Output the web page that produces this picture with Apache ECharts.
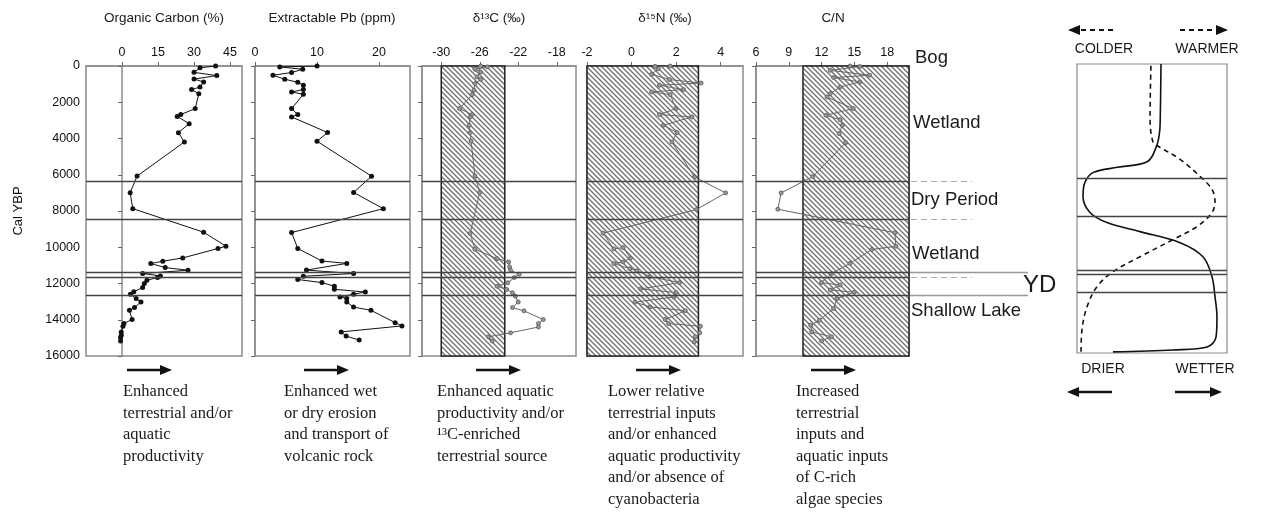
<!DOCTYPE html>
<html>
<head>
<meta charset="utf-8">
<script src="https://cdn.jsdelivr.net/npm/echarts@6/dist/echarts.min.js"></script>
<style>
html, body { margin: 0; padding: 0; background: #fff; }
#chart { width: 1265px; height: 520px; }
</style>
</head>
<body>
<div id="chart"></div>
<script>
// depth (cal yr BP) ticks and zone boundaries
const yTicks = [0, 2000, 4000, 6000, 8000, 10000, 12000, 14000, 16000]
const zoneBounds = [6350, 8450, 11400, 11650, 12650]

// tick labels on top axes
const ocTicks = [0, 15, 30, 45]
const pbTicks = [0, 10, 20]
const c13Ticks = [-30, -26, -22, -18]
const n15Ticks = [-2, 0, 2, 4]
const cnTicks = [6, 9, 12, 15, 18]

// [value, depth]
const orgCarbon = [[39, 0], [32.5, 100], [30, 350], [39.5, 530], [30, 720], [34, 880], [32.5, 1160], [29, 1300], [32, 1530], [30.5, 2350], [24.5, 2680], [23, 2780], [28, 3180], [23.5, 3680], [26, 4190], [6.3, 6070], [3.4, 6990], [4.5, 7870], [34, 9170], [43.3, 9940], [40, 10070], [25.3, 10590], [17, 10770], [12, 10900], [18, 11120], [27.5, 11270], [8.6, 11450], [16, 11580], [14.8, 11670], [10.4, 11820], [9.3, 12000], [8.6, 12220], [4.9, 12460], [3.5, 12590], [5.9, 12830], [7.9, 13020], [5.2, 13330], [3.1, 13480], [4.2, 13980], [0.8, 14210], [0.4, 14360], [-0.3, 14670], [-0.3, 14850], [-0.6, 14980], [-0.6, 15170]]
const leadPb = [[10, 0], [4, 50], [7.7, 180], [5.9, 360], [2.9, 510], [4.8, 730], [6.9, 900], [7.8, 1060], [7.8, 1300], [5.9, 1430], [7.8, 1560], [5.9, 2350], [6.9, 2680], [5.9, 2810], [11.7, 3670], [10, 4150], [18.8, 6080], [15.9, 6980], [20.7, 7870], [5.9, 9190], [6.9, 10070], [10.8, 10760], [14.8, 10890], [8.3, 11260], [15.9, 11450], [7.8, 11600], [6.9, 11780], [10.8, 11950], [12.8, 12150], [12.8, 12320], [17.8, 12470], [15.9, 12590], [13.7, 12740], [14.8, 12830], [14.8, 13020], [15.9, 13300], [18.7, 13480], [22.6, 14160], [23.7, 14340], [13.9, 14670], [14.7, 14900], [16.8, 15120]]
const d13C = [[-25.9, 0], [-25.2, 50], [-26.5, 180], [-25.9, 330], [-26.3, 600], [-25.9, 730], [-26.5, 970], [-26.6, 1340], [-26.8, 1580], [-28.1, 2350], [-26.8, 2680], [-27, 2810], [-27.1, 3270], [-27, 3670], [-26.9, 4150], [-26.5, 6070], [-26, 6980], [-27, 9240], [-26.5, 10110], [-24.2, 10630], [-23, 10810], [-22.9, 11090], [-22.8, 11270], [-21.9, 11490], [-22.4, 11670], [-23.1, 11960], [-24.2, 12150], [-23.2, 12330], [-22.6, 12510], [-22.3, 12700], [-22, 13020], [-22.6, 13330], [-21.4, 13510], [-19.4, 13990], [-19.9, 14210], [-19.9, 14400], [-22.8, 14720], [-25.1, 14940], [-24.7, 15170]]
const d15N = [[1.73, 0], [1.05, 20], [1.2, 150], [0.9, 460], [1.7, 750], [3.12, 940], [1.25, 1060], [2.33, 1300], [0.9, 1430], [1.73, 1580], [2.0, 2350], [1.25, 2680], [2.71, 2810], [1.43, 3270], [2.04, 3670], [1.81, 4190], [2.82, 6120], [4.22, 7000], [2.91, 7920], [-1.28, 9220], [-0.8, 10090], [-0.38, 10020], [-0.05, 10600], [-0.38, 10810], [-0.8, 10900], [-0.08, 11180], [0.23, 11300], [0.83, 11620], [2.15, 11950], [0.4, 12300], [2.0, 12500], [1.9, 12740], [0.15, 13030], [0.83, 13290], [2.41, 13500], [1.51, 13990], [1.66, 14210], [3.09, 14360], [3.06, 14720], [2.86, 14940], [2.82, 15220]]
const cnRatio = [[14.6, 0], [15.5, 30], [12.8, 240], [16.4, 510], [13.1, 640], [15.5, 880], [13.7, 1160], [12.8, 1520], [12.5, 1710], [14.9, 2350], [12.4, 2720], [13.7, 2960], [13.9, 3270], [13.6, 3730], [14.2, 4230], [11.2, 6100], [8.3, 7000], [8, 7900], [18.7, 9200], [18.8, 9950], [16.6, 10120], [14.6, 10890], [12.9, 11450], [12.0, 11950], [13.7, 12080], [12.8, 12360], [15.0, 12480], [13.4, 12830], [13.1, 13380], [11.8, 14030], [11, 14300], [11.1, 14670], [12.9, 14940], [12, 15170]]

// hatched "modern" ranges [from, to]
const c13Band = [-30, -23.4]
const n15Band = [-2, 3]
const cnBand = [10.3, 20]

// interpretation curves, x in % from left of the box
const moisture = [[56, 0], [55.5, 3000], [55, 3800], [53, 4550], [47, 5400], [27, 5720], [11, 6000], [5.3, 6550], [4, 7330], [8.7, 8220], [20, 8780], [42, 9280], [68.7, 9890], [84, 10670], [90, 11780], [92, 12890], [93.3, 14000], [92.7, 15110], [86.7, 15670], [64, 15830], [24, 15940]]
const temperature = [[49.3, 100], [48.7, 2900], [50.7, 4330], [55.3, 4610], [68.7, 5280], [82, 6220], [90, 6940], [92, 7610], [90, 8220], [80, 9000], [64, 9720], [42, 10670], [24, 11500], [13.3, 12330], [6.7, 13440], [3.3, 14720], [2.7, 15940]]

const chart = echarts.init(document.getElementById('chart'))

function hatch() {
  const c = document.createElement('canvas')
  c.width = c.height = 5
  const g = c.getContext('2d')
  g.fillStyle = '#fff'
  g.fillRect(0, 0, 5, 5)
  g.strokeStyle = '#707070'
  g.lineWidth = 1.3
  g.beginPath()
  g.moveTo(-1, -1); g.lineTo(6, 6)
  g.moveTo(-1, 4); g.lineTo(1, 6)
  g.moveTo(4, -1); g.lineTo(6, 1)
  g.stroke()
  return c
}
const hatchFill = { image: hatch(), repeat: 'repeat' }

const sans = 'Liberation Sans, Arial, sans-serif'
const serif = 'Liberation Serif, Times New Roman, serif'
const frame = '#8c8c8c'

const panels = [
  { left: 86, width: 156, min: -15, max: 50, ticks: ocTicks },
  { left: 255, width: 155, min: 0, max: 25, ticks: pbTicks },
  { left: 422, width: 154, min: -32, max: -16, ticks: c13Ticks },
  { left: 587, width: 156, min: -2, max: 5, ticks: n15Ticks },
  { left: 756, width: 153, min: 6, max: 20, ticks: cnTicks }
]

const grid = panels.map(p => ({
  left: p.left, width: p.width, top: 66, height: 290,
  show: true, borderColor: frame, borderWidth: 1.5, backgroundColor: 'transparent'
}))
grid.push({ left: 909, width: 121, top: 66, height: 290 })
grid.push({ left: 1077, width: 150, top: 64, height: 289, show: true, borderColor: frame, borderWidth: 1.2 })

const xAxis = panels.map((p, i) => ({
  type: 'value', gridIndex: i, position: 'top', min: p.min, max: p.max,
  axisLine: { show: true, lineStyle: { color: frame, width: 1.5 } },
  axisTick: { show: true, length: 4, customValues: p.ticks, lineStyle: { color: '#666' } },
  axisLabel: { customValues: p.ticks, margin: 7, fontSize: 12.5, color: '#111', fontFamily: sans, formatter: v => String(v) },
  splitLine: { show: false }
}))
xAxis.push({ type: 'value', gridIndex: 5, min: 0, max: 121, show: false })
xAxis.push({ type: 'value', gridIndex: 6, min: 0, max: 100, show: false })

const yAxis = panels.map((p, i) => ({
  type: 'value', gridIndex: i, inverse: true, min: 0, max: 16000, interval: 2000,
  name: i === 0 ? 'Cal YBP' : '', nameLocation: 'middle', nameGap: 61, nameRotate: 90,
  nameTextStyle: { fontSize: 13, color: '#111', fontFamily: sans },
  axisLine: { show: true, lineStyle: { color: frame, width: 1.5 } },
  axisTick: { show: true, length: 4, customValues: yTicks, lineStyle: { color: '#666' } },
  axisLabel: { show: i === 0, customValues: yTicks, margin: 6, fontSize: 12.5, color: '#111', fontFamily: sans, formatter: v => String(v) },
  splitLine: { show: false }
}))
yAxis.push({ type: 'value', gridIndex: 5, inverse: true, min: 0, max: 16000, show: false })
yAxis.push({ type: 'value', gridIndex: 6, inverse: true, min: 0, max: 16000, show: false })

const zoneLines = {
  silent: true, symbol: 'none', animation: false,
  label: { show: false },
  lineStyle: { color: '#444', width: 1.3, type: 'solid' },
  data: zoneBounds.map(v => ({ yAxis: v }))
}

function band(r) {
  return {
    silent: true,
    itemStyle: { color: hatchFill, borderColor: '#222', borderWidth: 1.5 },
    data: [[{ xAxis: r[0], yAxis: 0 }, { xAxis: r[1], yAxis: 16000 }]]
  }
}

function profile(i, data, dark, band_) {
  const s = {
    type: 'line', xAxisIndex: i, yAxisIndex: i, data: data,
    symbol: 'circle', symbolSize: dark ? 5 : 4, showSymbol: true,
    lineStyle: { color: dark ? '#111' : '#666', width: 1 },
    itemStyle: dark ? { color: '#111' } : { color: '#999', borderColor: '#555', borderWidth: 0.8 },
    markLine: zoneLines, animation: false, z: 3
  }
  if (band_) s.markArea = band_
  return s
}

const series = [
  profile(0, orgCarbon, true),
  profile(1, leadPb, true),
  profile(2, d13C, false, band(c13Band)),
  profile(3, d15N, false, band(n15Band)),
  profile(4, cnRatio, false, band(cnBand))
]

// zone separators in the label column
const dashedSep = [6350, 8450, 11650]
const solidSep = [11400, 12650]
series.push({
  type: 'lines', coordinateSystem: 'cartesian2d', xAxisIndex: 5, yAxisIndex: 5, silent: true,
  lineStyle: { color: '#555', width: 1.2, type: [6, 4] },
  data: dashedSep.map(v => ({ coords: [[2, v], [63, v]] }))
})
series.push({
  type: 'lines', coordinateSystem: 'cartesian2d', xAxisIndex: 5, yAxisIndex: 5, silent: true,
  lineStyle: { color: '#333', width: 1.3 },
  data: solidSep.map(v => ({ coords: [[0, v], [119, v]] }))
})

// right summary box
series.push({
  type: 'line', xAxisIndex: 6, yAxisIndex: 6, data: moisture, smooth: 0.35, showSymbol: false,
  lineStyle: { color: '#111', width: 1.6 }, markLine: zoneLines, animation: false
})
series.push({
  type: 'line', xAxisIndex: 6, yAxisIndex: 6, data: temperature, smooth: 0.35, showSymbol: false,
  lineStyle: { color: '#111', width: 1.6, type: [5, 4] }, animation: false
})

function arrow(x1, x2, y, dashed) {
  const d = Math.sign(x2 - x1)
  return [
    { type: 'line', shape: { x1: x1, y1: y, x2: x2 - d * 8, y2: y },
      style: { stroke: '#111', lineWidth: dashed ? 2 : 2.5, lineDash: dashed ? [5, 4] : null } },
    { type: 'polygon', shape: { points: [[x2, y], [x2 - d * 12, y - 5], [x2 - d * 12, y + 5]] },
      style: { fill: '#111' } }
  ]
}

function txt(x, y, text, size, extra) {
  return Object.assign({
    type: 'text', x: x, y: y,
    style: { text: text, fontSize: size, fontFamily: sans, fill: '#1a1a1a', textVerticalAlign: 'middle' }
  }, extra || {})
}

const titles = [
  [164, 'Organic Carbon (%)'], [332, 'Extractable Pb (ppm)'], [499, 'δ¹³C (‰)'],
  [665, 'δ¹⁵N (‰)'], [833, 'C/N']
]
const notes = [
  [123, 'Enhanced\nterrestrial and/or\naquatic\nproductivity'],
  [284, 'Enhanced wet\nor dry erosion\nand transport of\nvolcanic rock'],
  [437, 'Enhanced aquatic\nproductivity and/or\n¹³C-enriched\nterrestrial source'],
  [608, 'Lower relative\nterrestrial inputs\nand/or enhanced\naquatic productivity\nand/or absence of\ncyanobacteria'],
  [796, 'Increased\nterrestrial\ninputs and\naquatic inputs\nof C-rich\nalgae species']
]
const arrowsX = [[127, 172], [304, 349], [476, 521], [636, 681], [811, 856]]
const zoneNames = [
  [915, 58, 'Bog'], [913, 123, 'Wetland'], [911, 200, 'Dry Period'],
  [912, 254, 'Wetland'], [911, 311, 'Shallow Lake']
]

let graphic = []
titles.forEach(t => graphic.push(txt(t[0], 18, t[1], 13.5, {}) ) )
graphic.forEach(g => { g.style.textAlign = 'center' })
notes.forEach(n => graphic.push({
  type: 'text', x: n[0], y: 381,
  style: { text: n[1], fontSize: 16.5, fontFamily: serif, fill: '#1a1a1a', lineHeight: 21.5, textVerticalAlign: 'top' }
}))
arrowsX.forEach(a => { graphic = graphic.concat(arrow(a[0], a[1], 370, false)) })
zoneNames.forEach(z => graphic.push(txt(z[0], z[1], z[2], 18.5)))
graphic.push(txt(1023, 285, 'YD', 24))
graphic.push(txt(883, 285, 'YD', 12, {}))
graphic[graphic.length - 1].style.fill = '#999'
const labelsRight = [[1104, 49, 'COLDER'], [1207, 49, 'WARMER'], [1103, 369, 'DRIER'], [1205, 369, 'WETTER']]
labelsRight.forEach(l => {
  const t = txt(l[0], l[1], l[2], 14)
  t.style.textAlign = 'center'
  graphic.push(t)
})
graphic = graphic.concat(arrow(1113, 1068, 30, true), arrow(1180, 1228, 30, true),
  arrow(1112, 1067, 392, false), arrow(1175, 1222, 392, false))

chart.setOption({
  animation: false,
  backgroundColor: '#fff',
  grid: grid,
  xAxis: xAxis,
  yAxis: yAxis,
  series: series,
  graphic: graphic
})
</script>
</body>
</html>
